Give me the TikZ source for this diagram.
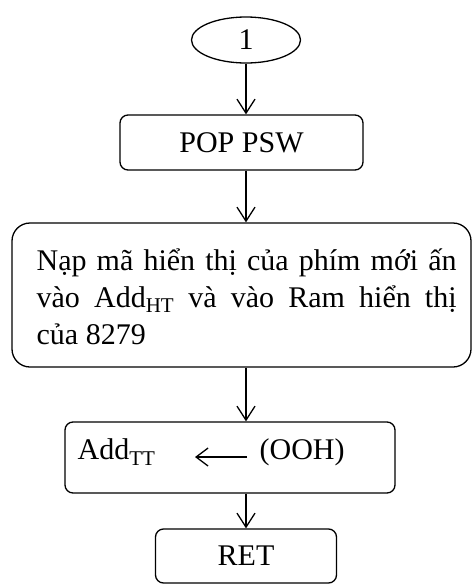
\documentclass[tikz,border=0pt]{standalone}
\usepackage{fontspec}
\setmainfont{Liberation Serif}
\usetikzlibrary{shapes.geometric,arrows.meta}
\begin{document}
\begin{tikzpicture}[x=1pt,y=-1pt,
  line width=1.3pt,
  flow/.style={-{Straight Barb[length=14pt,width=18pt,line width=1.3pt]}},
  stepbox/.style={draw,rounded corners=8pt,inner sep=0pt},
  txt/.style={font=\fontsize{30}{37}\selectfont}]
\useasboundingbox (0,0) rectangle (472,584);

% terminal and process boxes
\node[draw,ellipse,minimum width=109pt,minimum height=46pt,inner sep=0pt,txt] (start) at (246,40) {1};
\node[stepbox,minimum width=243pt,minimum height=55pt,txt] (pop) at (241.5,142.5) {POP PSW};
\node[stepbox,rounded corners=18pt,minimum width=459pt,minimum height=144pt] (big) at (241.5,295) {};
\node[txt,anchor=north west,text width=420pt,align=justify,inner sep=0pt] (bigtext) at (36,248)
  {Nạp mã hiển thị của phím mới ấn\linebreak vào Add\textsubscript{HT} và vào Ram hiển thị\linebreak của 8279};
\node[stepbox,minimum width=330pt,minimum height=71pt] (add) at (230,457.5) {};
\node[txt,anchor=west,inner sep=0pt] (addtt) at (77,452) {Add\textsubscript{TT}};
\node[txt,anchor=west,inner sep=0pt] (ooh) at (259,452) {(OOH)};
\coordinate (arrA) at (247,457);
\coordinate (arrB) at (195,457);
\node[stepbox,minimum width=181pt,minimum height=54pt,txt] (ret) at (246,556) {RET};

% connectors
\draw[flow] (start.south) -- (start.south |- pop.north);
\draw[flow] (start.south |- pop.south) -- (start.south |- big.north);
\draw[flow] (start.south |- big.south) -- (start.south |- add.north);
\draw[flow] (start.south |- add.south) -- (start.south |- ret.north);
\draw[-{Straight Barb[length=12pt,width=18pt,line width=1.3pt]}] (arrA) -- (arrB);
\end{tikzpicture}
\end{document}
